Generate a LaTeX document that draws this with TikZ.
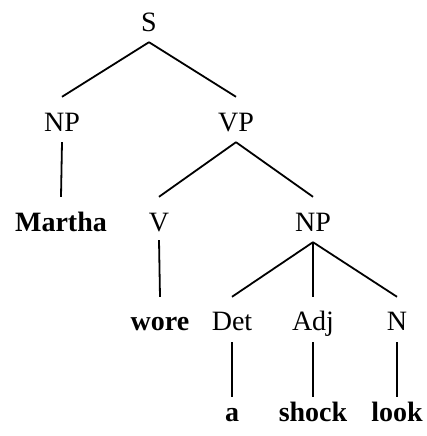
\documentclass[tikz,border=0pt]{standalone}
\usepackage{fontspec}
\setmainfont{Liberation Serif}
\begin{document}
\begin{tikzpicture}[x=1pt,y=-1pt,
  lbl/.style={anchor=base,inner sep=0pt,text height=19pt,text depth=0pt,font=\fontsize{28}{30}\selectfont},
  word/.style={lbl,font=\fontsize{28}{30}\selectfont\bfseries},
  branch/.style={line width=1.8pt,black}]
\useasboundingbox (0,0) rectangle (427,436);
% nodes
\node[lbl] (S) at (149,32) {S};
\node[lbl] (NPa) at (62,131) {NP};
\node[lbl] (VP) at (236,131) {VP};
\node[word] (Martha) at (61,231) {Martha};
\node[lbl] (V) at (159,231) {V};
\node[lbl] (NPb) at (313,231) {NP};
\node[word] (wore) at (160,330) {wore};
\node[lbl] (Det) at (232,330) {Det};
\node[lbl] (Adj) at (313,330) {Adj};
\node[lbl] (N) at (397,330) {N};
\node[word] (a) at (232,421) {a};
\node[word] (shock) at (313,421) {shock};
\node[word] (look) at (397,421) {look};
% edges
\draw[branch] ([yshift=-10pt]S.south) -- ([yshift=15pt]NPa.north);
\draw[branch] ([yshift=-10pt]S.south) -- ([yshift=15pt]VP.north);
\draw[branch] ([yshift=-11pt]NPa.south) -- ([yshift=15pt]Martha.north);
\draw[branch] ([yshift=-11pt]VP.south) -- ([yshift=15pt]V.north);
\draw[branch] ([yshift=-11pt]VP.south) -- ([yshift=15pt]NPb.north);
\draw[branch] ([yshift=-9pt]V.south) -- ([yshift=14pt]wore.north);
\draw[branch] ([yshift=-11pt]NPb.south) -- ([yshift=14pt]Det.north);
\draw[branch] ([yshift=-11pt]NPb.south) -- ([yshift=14pt]Adj.north);
\draw[branch] ([yshift=-11pt]NPb.south) -- ([yshift=14pt]N.north);
\draw[branch] ([yshift=-12pt]Det.south) -- ([yshift=5pt]a.north);
\draw[branch] ([yshift=-12pt]Adj.south) -- ([yshift=5pt]shock.north);
\draw[branch] ([yshift=-12pt]N.south) -- ([yshift=5pt]look.north);
\end{tikzpicture}
\end{document}
